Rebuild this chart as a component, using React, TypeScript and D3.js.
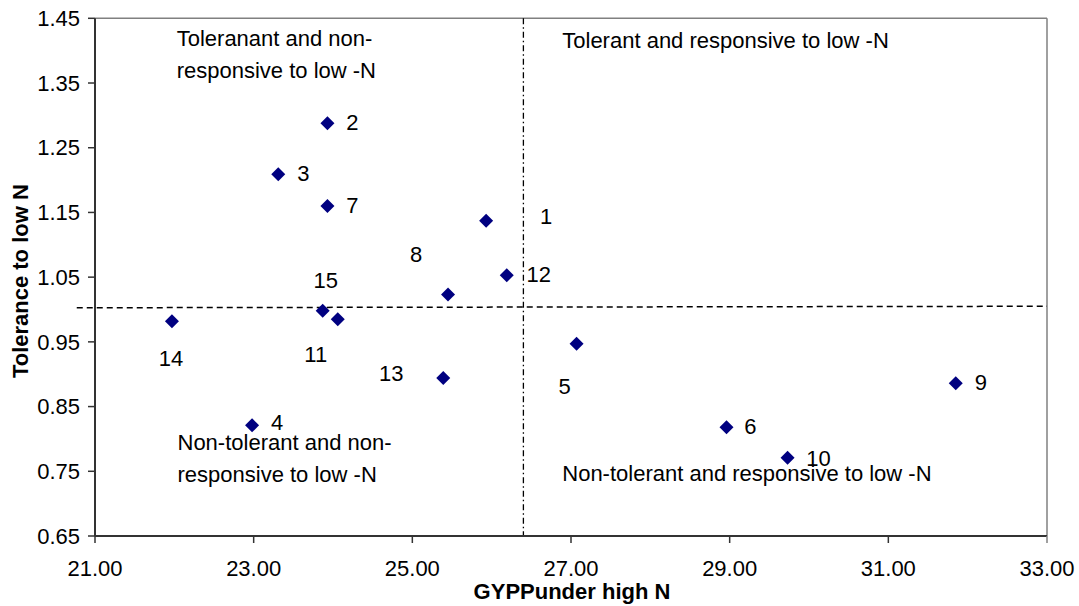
import React from "react";
import * as d3 from "d3";

// ---- data ----
const genotypes = ["1", "2", "3", "4", "5", "6", "7", "8", "9", "10", "11", "12", "13", "14", "15"];
const gypHighN = [25.93, 23.93, 23.31, 22.98, 27.07, 28.96, 23.93, 25.45, 31.85, 29.73, 24.06, 26.19, 25.39, 21.97, 23.87];
const toleranceLowN = [1.137, 1.288, 1.209, 0.821, 0.947, 0.818, 1.160, 1.023, 0.886, 0.771, 0.985, 1.053, 0.894, 0.982, 0.998];

// label offsets (px) of each point's number, relative to the point
const labelDx = [60, 25, 25, 25, -12, 24, 25, -32, 25, 31, -22, 32, -52, -1, 3];
const labelDy = [3, 7, 7, 5, 50, 7, 7, -33, 7, 8, 43, 7, 3, 45, -23];

const xTicks = [21, 23, 25, 27, 29, 31, 33];
const yTicks = [0.65, 0.75, 0.85, 0.95, 1.05, 1.15, 1.25, 1.35, 1.45];

const xTitle = "GYPPunder high N";
const yTitle = "Tolerance to low N";

// reference lines
const vLineX = 26.4;
const hLine = [
  [20.77, 1.0027],
  [33, 1.005],
];

// quadrant annotations: [x, y] in data units, lines of text
const quadrants = [
  { x: 22.03, y: 1.407, lines: ["Toleranant and non-", "responsive to low -N"] },
  { x: 26.89, y: 1.4035, lines: ["Tolerant and responsive to low -N"] },
  { x: 22.04, y: 0.7828, lines: ["Non-tolerant and non-", "responsive to low -N"] },
  { x: 26.89, y: 0.7349, lines: ["Non-tolerant and responsive to low -N"] },
];

const W = 1079;
const H = 606;
const FONT = "'Liberation Sans', Arial, Helvetica, sans-serif";

export default function App() {
  const left = 95, right = 1047, top = 18.3, bottom = 536;
  const x = d3.scaleLinear().domain([21, 33]).range([left, right]);
  const y = d3.scaleLinear().domain([0.65, 1.45]).range([bottom, top]);
  const fmt = d3.format(".2f");
  const diamond = d3.symbol().type(d3.symbolDiamond2).size(125)();
  const hPath = d3.line().x((d: any) => x(d[0])).y((d: any) => y(d[1]))(hLine as any);

  return (
    <>
      <style>{`body{margin:0;overflow:hidden}`}</style>
      <svg width={W} height={H} style={{ position: "absolute", left: 0, top: 0, background: "#fff" }} fontFamily={FONT}>
        {/* frame top & right */}
        <line x1={left} x2={right} y1={top} y2={top} stroke="#808080" strokeWidth={1.5} />
        <line x1={right} x2={right} y1={top} y2={bottom} stroke="#808080" strokeWidth={1.5} />

        {/* reference lines */}
        <line x1={x(vLineX)} x2={x(vLineX)} y1={top} y2={bottom} stroke="#000" strokeWidth={1.3} strokeDasharray="6,3,1.5,3" />
        <path d={hPath || ""} stroke="#000" strokeWidth={1.5} fill="none" strokeDasharray="6,4" />

        {/* axes */}
        <line x1={left} x2={left} y1={top} y2={bottom} stroke="#333" strokeWidth={2} />
        <line x1={left} x2={right} y1={bottom} y2={bottom} stroke="#333" strokeWidth={2} />
        {yTicks.map((t) => (
          <g key={"y" + t}>
            <line x1={left - 7} x2={left} y1={y(t)} y2={y(t)} stroke="#333" strokeWidth={1.5} />
            <text x={left - 15} y={y(t)} dy="0.35em" textAnchor="end" fontSize={22} fill="#000">
              {fmt(t)}
            </text>
          </g>
        ))}
        {xTicks.map((t) => (
          <g key={"x" + t}>
            <line x1={x(t)} x2={x(t)} y1={bottom} y2={bottom + 7} stroke={t === 33 ? "#808080" : "#333"} strokeWidth={1.5} />
            <text x={x(t)} y={576} textAnchor="middle" fontSize={22} fill="#000">
              {fmt(t)}
            </text>
          </g>
        ))}

        {/* axis titles */}
        <text x={(left + right) / 2 + 1} y={599} textAnchor="middle" fontSize={22} fontWeight="bold" fill="#000">
          {xTitle}
        </text>
        <text
          transform={`translate(28,${(top + bottom) / 2 + 4}) rotate(-90)`}
          textAnchor="middle"
          fontSize={22}
          fontWeight="bold"
          fill="#000"
        >
          {yTitle}
        </text>

        {/* quadrant labels */}
        {quadrants.map((q, i) => (
          <text key={"q" + i} x={x(q.x)} y={y(q.y)} fontSize={22} fill="#000">
            {q.lines.map((l, j) => (
              <tspan key={j} x={x(q.x)} dy={j === 0 ? 0 : 31.5}>
                {l}
              </tspan>
            ))}
          </text>
        ))}

        {/* points */}
        {genotypes.map((g, i) => (
          <g key={g}>
            <path d={diamond || ""} transform={`translate(${x(gypHighN[i])},${y(toleranceLowN[i])})`} fill="#000080" />
            <text
              x={x(gypHighN[i]) + labelDx[i]}
              y={y(toleranceLowN[i]) + labelDy[i]}
              textAnchor="middle"
              fontSize={22}
              fill="#000"
            >
              {g}
            </text>
          </g>
        ))}
      </svg>
    </>
  );
}
